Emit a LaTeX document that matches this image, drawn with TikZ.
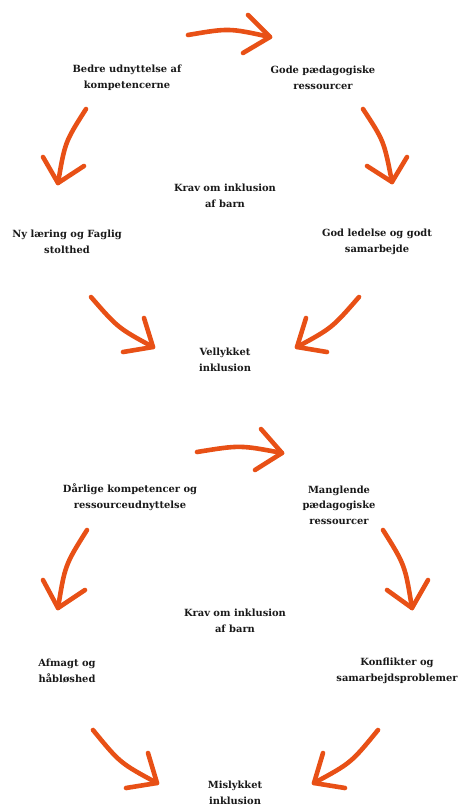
\documentclass[tikz,border=0pt]{standalone}
\usepackage{fontspec}
\setmainfont{DejaVu Serif}
\definecolor{arrowc}{RGB}{232,80,22}
\begin{document}
\begin{tikzpicture}[x=1pt,y=-1pt,
  lbl/.style={align=center,inner sep=0pt,font=\bfseries\fontsize{9.9}{15.5}\selectfont,text=black!90},
  cyc/.style={draw=arrowc,line width=4.6pt,line cap=round,line join=round}]
\useasboundingbox (0,0) rectangle (467,808);
% ---------- upper cycle texts
\node[lbl] (t1) at (127,78) {Bedre udnyttelse af\\kompetencerne};
\node[lbl] (t2) at (323,78) {Gode pædagogiske\\ressourcer};
\node[lbl] (t3) at (225,196) {Krav om inklusion\\af barn};
\node[lbl] (t4) at (67,242) {Ny læring og Faglig\\stolthed};
\node[lbl] (t5) at (377,242) {God ledelse og godt\\samarbejde};
\node[lbl] (t6) at (225,360) {Vellykket\\inklusion};
% ---------- lower cycle texts
\node[lbl] (b1) at (130,497) {Dårlige kompetencer og\\ressourceudnyttelse};
\node[lbl] (b2) at (339,505) {Manglende\\pædagogiske\\ressourcer};
\node[lbl] (b3) at (235,621) {Krav om inklusion\\af barn};
\node[lbl] (b4) at (67,671) {Afmagt og\\håbløshed};
\node[lbl] (b5) at (397,671) {Konflikter og\\samarbejdsproblemer};
\node[lbl] (b6) at (235,793) {Mislykket\\inklusion};
% ---------- arrow coordinates
\coordinate (a1s) at (188,35);  \coordinate (a1t) at (270,37);
\coordinate (a1h) at (248,15);  \coordinate (a1k) at (243,53);
\coordinate (a2s) at (86,109);  \coordinate (a2t) at (58,183);
\coordinate (a2h) at (43,157);  \coordinate (a2k) at (84,166);
\coordinate (a3s) at (363,109); \coordinate (a3t) at (392,182);
\coordinate (a3h) at (367,166); \coordinate (a3k) at (407,157);
\coordinate (a4s) at (91,297);  \coordinate (a4t) at (153,347);
\coordinate (a4h) at (144,318); \coordinate (a4k) at (123,352);
\coordinate (a5s) at (359,297); \coordinate (a5t) at (297,347);
\coordinate (a5h) at (306,318); \coordinate (a5k) at (327,352);
\coordinate (a6s) at (197,452); \coordinate (a6t) at (282,453);
\coordinate (a6h) at (261,429); \coordinate (a6k) at (255,470);
\coordinate (a7s) at (87,530);  \coordinate (a7t) at (58,608);
\coordinate (a7h) at (43,580);  \coordinate (a7k) at (85,590);
\coordinate (a8s) at (383,530); \coordinate (a8t) at (412,608);
\coordinate (a8h) at (387,590); \coordinate (a8k) at (428,580);
\coordinate (a9s) at (93,730);  \coordinate (a9t) at (157,783);
\coordinate (a9h) at (148,753); \coordinate (a9k) at (126,788);
\coordinate (a10s) at (378,730); \coordinate (a10t) at (314,783);
\coordinate (a10h) at (323,753); \coordinate (a10k) at (345,788);
% ---------- arrows
\draw[cyc] (a1s) .. controls (229,28) .. (a1t);   \draw[cyc] (a1h) -- (a1t) -- (a1k);
\draw[cyc] (a2s) .. controls (65,142) .. (a2t);   \draw[cyc] (a2h) -- (a2t) -- (a2k);
\draw[cyc] (a3s) .. controls (384,141) .. (a3t);  \draw[cyc] (a3h) -- (a3t) -- (a3k);
\draw[cyc] (a4s) .. controls (118,328) .. (a4t);  \draw[cyc] (a4h) -- (a4t) -- (a4k);
\draw[cyc] (a5s) .. controls (332,328) .. (a5t);  \draw[cyc] (a5h) -- (a5t) -- (a5k);
\draw[cyc] (a6s) .. controls (240,445) .. (a6t);  \draw[cyc] (a6h) -- (a6t) -- (a6k);
\draw[cyc] (a7s) .. controls (65,565) .. (a7t);   \draw[cyc] (a7h) -- (a7t) -- (a7k);
\draw[cyc] (a8s) .. controls (405,565) .. (a8t);  \draw[cyc] (a8h) -- (a8t) -- (a8k);
\draw[cyc] (a9s) .. controls (120,763) .. (a9t);  \draw[cyc] (a9h) -- (a9t) -- (a9k);
\draw[cyc] (a10s) .. controls (351,763) .. (a10t); \draw[cyc] (a10h) -- (a10t) -- (a10k);
\end{tikzpicture}
\end{document}
